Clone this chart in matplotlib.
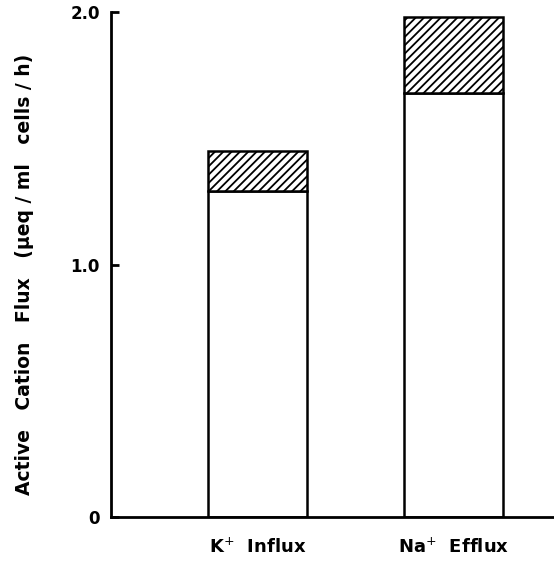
import numpy as np
import matplotlib
matplotlib.use("Agg")
import matplotlib.pyplot as plt

# values
categories = ["K$^{+}$  Influx", "Na$^{+}$  Efflux"]
basal_flux = [1.29, 1.68]      # open part of each bar
total_flux = [1.45, 1.98]      # top of hatched part
y_ticks = [0, 1.0, 2.0]
y_tick_labels = ["0", "1.0", "2.0"]

plt.rcParams['font.family'] = ['DejaVu Sans']
plt.rcParams['hatch.linewidth'] = 1.3

fig = plt.figure(figsize=(5.54, 5.62), dpi=100)
ax = fig.add_axes([111 / 554, 45 / 562, 442 / 554, 505 / 562])

x = np.arange(len(categories))
extra = np.array(total_flux) - np.array(basal_flux)

ax.bar(x, basal_flux, width=0.505, color="white", edgecolor="black", linewidth=1.8)
ax.bar(x, extra, bottom=basal_flux, width=0.505, color="white", edgecolor="black",
       linewidth=1.8, hatch="////")

ax.set_xlim(-0.747, 1.508)
ax.set_ylim(0, 2.0)

ax.spines["top"].set_visible(False)
ax.spines["right"].set_visible(False)
ax.spines["left"].set_linewidth(2)
ax.spines["bottom"].set_linewidth(2)

ax.set_yticks(y_ticks)
ax.set_yticklabels(y_tick_labels, fontsize=12, fontweight="bold")
ax.tick_params(axis="y", direction="in", length=6, width=2, pad=8)

ax.set_xticks(x)
ax.set_xticklabels(categories, fontsize=13, fontweight="semibold")
ax.tick_params(axis="x", length=0, pad=15)

ax.set_ylabel("Active   Cation   Flux   (\u00b5eq / ml   cells / h)", fontsize=13.5,
              fontweight="semibold")
ax.yaxis.set_label_coords(-0.175, 0.48)

fig.savefig("out.png", dpi=100)
